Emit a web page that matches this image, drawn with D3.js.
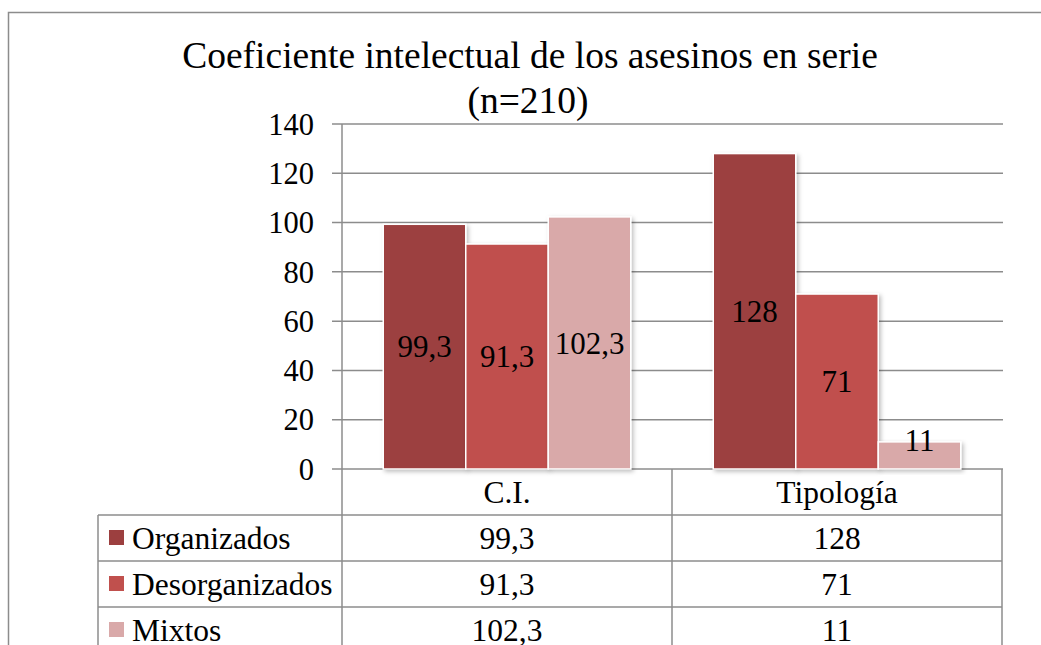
<!DOCTYPE html>
<html>
<head>
<meta charset="utf-8">
<script src="https://cdn.jsdelivr.net/npm/d3@7"></script>
<style>
  body { margin: 0; background: #fff; }
</style>
</head>
<body>
<div id="chart"></div>
<script>
// chart data
const categories = ["C.I.", "Tipología"];
const seriesNames = ["Organizados", "Desorganizados", "Mixtos"];
const seriesLabels = [["99,3", "128"], ["91,3", "71"], ["102,3", "11"]];
const organizados = [99.3, 128];
const desorganizados = [91.3, 71];
const mixtos = [102.3, 11];
const seriesValues = [organizados, desorganizados, mixtos];
const seriesColors = ["#9c3f3f", "#c0504d", "#d9a9a9"];
const yTicks = [0, 20, 40, 60, 80, 100, 120, 140];

const width = 1041, height = 645;
const plot = {left: 342, right: 1002, top: 124, bottom: 469};
const tableLeft = 98, rowH = 46;
const serif = "Liberation Serif";

const svg = d3.select("#chart").append("svg")
    .attr("width", width)
    .attr("height", height);

// small helper so every label gets the same font
function addText(parent, x, y, str, size, anchor, dy) {
    return parent.append("text")
        .attr("x", x).attr("y", y)
        .attr("dy", dy === undefined ? "0.35em" : dy)
        .attr("text-anchor", anchor || "middle")
        .style("font-family", serif)
        .style("font-size", size + "px")
        .style("fill", "#000")
        .text(str);
}

// drop shadow for the bars
const defs = svg.append("defs");
const filter = defs.append("filter").attr("id", "shadow")
    .attr("x", "-10%").attr("y", "-10%").attr("width", "130%").attr("height", "130%");
filter.append("feDropShadow")
    .attr("dx", 2).attr("dy", 2).attr("stdDeviation", 2)
    .attr("flood-color", "#000").attr("flood-opacity", 0.25);

// outer frame
svg.append("path")
    .attr("d", `M8.5,${height} V12.5 H${width}`)
    .attr("fill", "none")
    .attr("stroke", "#8c8c8c")
    .attr("stroke-width", 1.5);

// title (baseline positioned)
addText(svg, 530, 68, "Coeficiente intelectual de los asesinos en serie", 37.5, "middle", 0);
addText(svg, 528, 113, "(n=210)", 37.5, "middle", 0);

const x0 = d3.scaleBand()
    .domain(categories)
    .range([plot.left, plot.right])
    .paddingInner(0)
    .paddingOuter(0);

const x1 = d3.scaleBand()
    .domain(seriesNames)
    .range([0, x0.bandwidth()])
    .paddingOuter(0.5)
    .paddingInner(0);

const y = d3.scaleLinear()
    .domain([0, 140])
    .range([plot.bottom, plot.top]);

// gridlines
svg.append("g")
    .selectAll("line")
    .data(yTicks)
    .enter().append("line")
    .attr("x1", plot.left - 10)
    .attr("x2", plot.right + 1)
    .attr("y1", d => y(d))
    .attr("y2", d => y(d))
    .attr("stroke", "#8c8c8c")
    .attr("stroke-width", 1.5);

// y tick labels
const tickG = svg.append("g");
yTicks.forEach(t => addText(tickG, 314, y(t), t, 30.5, "end"));

// bars
const groups = svg.append("g")
    .selectAll("g")
    .data(seriesNames)
    .enter().append("g");

groups.each(function (name, si) {
    const g = d3.select(this);
    const data = categories.map((c, ci) => ({cat: c, value: seriesValues[si][ci]}));
    g.selectAll("rect")
        .data(data)
        .enter().append("rect")
        .attr("x", d => x0(d.cat) + x1(name))
        .attr("y", d => y(d.value))
        .attr("width", x1.bandwidth())
        .attr("height", d => y(0) - y(d.value))
        .attr("fill", seriesColors[si])
        .attr("stroke", "#fff")
        .attr("stroke-width", 1.5)
        .attr("filter", "url(#shadow)");
});

// data labels (drawn after all bars so shadows don't cover them)
seriesNames.forEach(function (name, si) {
    categories.forEach(function (c, ci) {
        const v = seriesValues[si][ci];
        const top = y(v), h = y(0) - y(v);
        const cy = h < 32 ? top - 2 : top + h / 2;
        addText(svg, x0(c) + x1(name) + x1.bandwidth() / 2, cy, seriesLabels[si][ci], 31);
    });
});

// y axis line, continues through the data table
svg.append("line")
    .attr("x1", plot.left).attr("x2", plot.left)
    .attr("y1", plot.top).attr("y2", height)
    .attr("stroke", "#8c8c8c")
    .attr("stroke-width", 1.5);

// data table
const table = svg.append("g").attr("stroke", "#8c8c8c").attr("stroke-width", 1.5);
// horizontal row lines
const rowLines = [plot.bottom + rowH, plot.bottom + 2 * rowH, plot.bottom + 3 * rowH];
table.selectAll("line.row")
    .data(rowLines)
    .enter().append("line")
    .attr("class", "row")
    .attr("x1", tableLeft).attr("x2", plot.right)
    .attr("y1", d => d).attr("y2", d => d);
// vertical lines
table.append("line")
    .attr("x1", tableLeft).attr("x2", tableLeft)
    .attr("y1", plot.bottom + rowH).attr("y2", height);
categories.forEach(function (c) {
    table.append("line")
        .attr("x1", x0(c) + x0.bandwidth()).attr("x2", x0(c) + x0.bandwidth())
        .attr("y1", plot.bottom).attr("y2", height);
});

// category headers
categories.forEach(c => addText(svg, x0(c) + x0.bandwidth() / 2, plot.bottom + rowH / 2, c, 31.5));

// table rows
seriesNames.forEach(function (name, si) {
    const cy = plot.bottom + rowH * (si + 1) + rowH / 2;
    svg.append("rect")
        .attr("x", 109).attr("y", cy - 8)
        .attr("width", 15).attr("height", 15)
        .attr("fill", seriesColors[si]);
    addText(svg, 132, cy, name, 31.5, "start");
    categories.forEach(function (c, ci) {
        addText(svg, x0(c) + x0.bandwidth() / 2, cy, seriesLabels[si][ci], 31.5);
    });
});
</script>
</body>
</html>
